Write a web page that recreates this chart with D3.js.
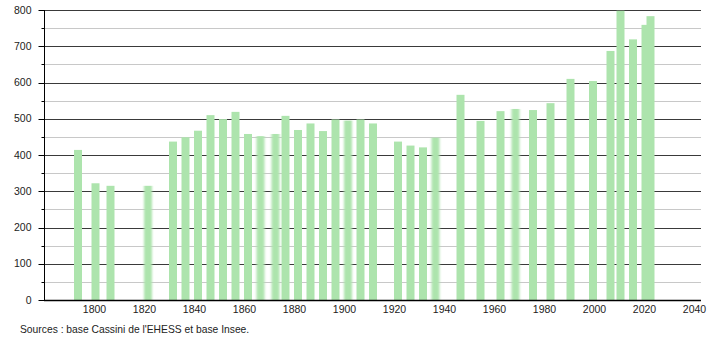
<!DOCTYPE html>
<meta charset="utf-8">
<script src="https://d3js.org/d3.v7.min.js"></script>
<style>
  body { margin: 0; background: #fff; }
  svg text { font-family: "Liberation Sans", Arial, sans-serif; }
</style>
<svg id="chart" width="710" height="340"></svg>
<script>
// Census years and population
var years = [1793, 1800, 1806, 1821, 1831, 1836, 1841, 1846, 1851, 1856,
             1861, 1866, 1872, 1876, 1881, 1886, 1891, 1896, 1901, 1906,
             1911, 1921, 1926, 1931, 1936, 1946, 1954, 1962, 1968, 1975,
             1982, 1990, 1999, 2006, 2010, 2015, 2020, 2022];
var population = [414, 322, 315, 315, 437, 449, 467, 510, 499, 519,
                  458, 452, 458, 508, 469, 487, 466, 498, 495, 498,
                  487, 437, 426, 421, 448, 566, 494, 521, 527, 524,
                  543, 610, 604, 687, 798, 719, 759, 783];
var yTicks = [0, 100, 200, 300, 400, 500, 600, 700, 800];
var xTicks = [1800, 1820, 1840, 1860, 1880, 1900, 1920, 1940, 1960, 1980, 2000, 2020, 2040];
var source = "Sources : base Cassini de l'EHESS et base Insee.";

// bars that look smudged in the original picture
var softYears = [1821, 1866, 1872, 1901, 1936, 1968];

var svg = d3.select("#chart");

var x = d3.scaleLinear().domain([1780, 2040]).range([45.5, 695.5]);
var y = d3.scaleLinear().domain([0, 800]).range([300, 10]);

var defs = svg.append("defs");
defs.append("filter").attr("id", "soft")
    .attr("x", "-50%").attr("width", "200%")
  .append("feGaussianBlur").attr("stdDeviation", "1.3 0");

// light gridlines at the 50s
svg.append("g")
    .selectAll("line")
    .data(d3.range(50, 800, 100))
    .enter().append("line")
    .attr("x1", 44).attr("x2", 701)
    .attr("y1", d => Math.round(y(d)) + 0.5).attr("y2", d => Math.round(y(d)) + 0.5)
    .style("stroke", "#c8c8c8");

// dark gridlines at the 100s
svg.append("g")
    .selectAll("line")
    .data(yTicks.slice(1))
    .enter().append("line")
    .attr("x1", 44).attr("x2", 701)
    .attr("y1", d => Math.round(y(d)) + 0.5).attr("y2", d => Math.round(y(d)) + 0.5)
    .style("stroke", "#3a3a3a");

// bars
var barW = 8;
svg.append("g")
    .selectAll("rect")
    .data(years)
    .enter().append("rect")
    .attr("x", d => x(d) - barW / 2)
    .attr("width", barW)
    .attr("y", (d, i) => y(population[i]))
    .attr("height", (d, i) => y(0) - y(population[i]))
    .attr("fill", "#ade4ad")
    .attr("filter", d => softYears.indexOf(d) >= 0 ? "url(#soft)" : null);

// y axis with minor ticks
var yAxis = svg.append("g").attr("transform", "translate(44.5,0)");
yAxis.append("line").attr("y1", 10).attr("y2", 300).style("stroke", "#000");
yAxis.selectAll(".major")
    .data(yTicks)
    .enter().append("line")
    .attr("x1", -6).attr("x2", 0)
    .attr("y1", d => Math.round(y(d)) + 0.5).attr("y2", d => Math.round(y(d)) + 0.5)
    .style("stroke", "#000");
yAxis.selectAll(".minor")
    .data(d3.range(50, 800, 100))
    .enter().append("line")
    .attr("x1", -3).attr("x2", 0)
    .attr("y1", d => Math.round(y(d)) + 0.5).attr("y2", d => Math.round(y(d)) + 0.5)
    .style("stroke", "#000");
yAxis.selectAll("text")
    .data(yTicks)
    .enter().append("text")
    .attr("x", -13)
    .attr("y", d => y(d))
    .attr("dy", "0.35em")
    .attr("text-anchor", "end")
    .style("font-size", "10.5px")
    .style("fill", "#222")
    .text(d => d);

// x axis
svg.append("line")
    .attr("x1", 44).attr("x2", 701)
    .attr("y1", 300.5).attr("y2", 300.5)
    .style("stroke", "#000").style("stroke-width", 1.5);
svg.append("g")
    .selectAll("text")
    .data(xTicks)
    .enter().append("text")
    .attr("x", d => x(d) - 1)
    .attr("y", 313)
    .attr("text-anchor", "middle")
    .style("font-size", "10.5px")
    .style("fill", "#222")
    .text(d => d);

svg.append("text")
    .attr("x", 20).attr("y", 333)
    .style("font-size", "10.3px")
    .style("fill", "#222")
    .text(source);
</script>
